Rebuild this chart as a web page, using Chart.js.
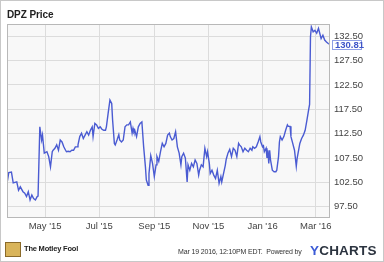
<!DOCTYPE html>
<html>
<head>
<meta charset="utf-8">
<script src="https://cdn.jsdelivr.net/npm/chart.js@4"></script>
<style>
  html, body { margin: 0; padding: 0; background: #fff; }
  body { width: 384px; height: 262px; position: relative; overflow: hidden; font-family: "Liberation Sans", Arial, sans-serif; }
  #frame { position: absolute; left: 0; top: 0; width: 384px; height: 262px; box-sizing: border-box; border: 1px solid #c8c8c8; }
  #chartBox { position: absolute; left: 0; top: 0; width: 384px; height: 262px; }
  .title { position: absolute; left: 7px; top: 9px; font-size: 10px; font-weight: bold; color: #222; letter-spacing: -0.1px; }
  .fool { position: absolute; left: 24px; top: 244px; font-size: 7.5px; font-weight: bold; color: #222; letter-spacing: -0.2px; }
  .logo { position: absolute; left: 5px; top: 242px; width: 16px; height: 15px; background: #d9b45a; border: 1px solid #8a6a2a; box-sizing: border-box; }
  .stamp { position: absolute; left: 178px; top: 248px; font-size: 7px; color: #333; letter-spacing: -0.15px; }
  .ych { position: absolute; left: 310px; top: 243px; font-size: 13.5px; font-weight: bold; color: #2c3440; letter-spacing: 0.2px; }
  .ych span { color: #3b5bd6; }
</style>
</head>
<body>
<div id="chartBox"><canvas id="priceChart" width="384" height="262"></canvas></div>
<div id="frame"></div>
<div class="title">DPZ Price</div>
<div class="logo"></div>
<div class="fool">The Motley Fool</div>
<div class="stamp">Mar 19 2016, 12:10PM EDT.&nbsp; Powered by</div>
<div class="ych"><span>Y</span>CHARTS</div>
<script>
// days since 2015-03-19 and closing price
const days = [0, 2, 5, 7, 11, 13, 15, 18, 20, 22, 24, 26, 28, 30, 32, 34, 35, 37, 39, 40,
  42, 45, 47, 49, 51, 52, 54, 56, 58, 60, 62, 64, 66, 67, 69, 71, 73, 75, 77, 79,
  80, 82, 84, 86, 88, 90, 92, 94, 96, 97, 99, 101, 103, 105, 107, 109, 111, 112, 114, 116,
  118, 119, 121, 122, 124, 126, 127, 129, 131, 133, 135, 137, 139, 141, 142, 143, 144, 146, 148, 150,
  152, 154, 156, 157, 159, 160, 162, 164, 166, 168, 169, 171, 173, 175, 177, 179, 181, 183, 184, 186,
  188, 190, 192, 194, 196, 197, 199, 201, 203, 204, 206, 208, 210, 212, 214, 216, 217, 219, 221, 223,
  225, 226, 228, 229, 231, 233, 235, 237, 239, 241, 242, 244, 246, 247, 249, 251, 253, 255, 257, 259,
  261, 262, 264, 266, 268, 270, 272, 274, 276, 277, 279, 281, 283, 285, 286, 288, 289, 290, 292, 293,
  294, 295, 296, 297, 299, 301, 303, 304, 306, 307, 308, 310, 312, 314, 316, 317, 319, 320, 322, 324,
  326, 327, 329, 330, 332, 334, 336, 338, 340, 341, 342, 343, 345, 347, 349, 351, 352, 354, 356, 358,
  360, 362, 364];
const prices = [102.3, 104.5, 104.6, 102.4, 102.6, 100.9, 101.6, 100.6, 100.3, 99.6, 100.6, 98.9, 99.9, 99.2, 98.9, 99.6, 99.7, 113.9, 111.2, 112.2,
  108.5, 108.8, 107.8, 105.7, 108.8, 109.1, 109.5, 110.2, 109.1, 111.2, 110.8, 109.8, 109.1, 108.8, 108.9, 108.8, 109.1, 109.1, 109.8, 109.8,
  110.2, 111.9, 112.6, 111.5, 112.2, 112.9, 112.2, 113.2, 113.9, 111.9, 114.6, 114.3, 113.6, 113.9, 113.4, 113.2, 113.2, 113.9, 116.7, 119.4,
  118.7, 115.3, 110.5, 110.2, 111.2, 112.3, 111.2, 110.8, 111.2, 113.9, 114.3, 114.3, 114.9, 112.6, 113.6, 112.9, 113.2, 111.9, 113.9, 114.6,
  114.9, 109.8, 105.7, 103.0, 101.9, 104.3, 108.0, 106.4, 103.7, 106.1, 107.8, 106.8, 108.8, 110.5, 109.8, 110.5, 112.2, 112.6, 111.9, 111.2,
  111.5, 112.9, 109.8, 108.5, 106.1, 107.8, 108.5, 107.5, 102.6, 106.1, 105.0, 106.4, 105.7, 107.1, 106.4, 104.0, 105.0, 106.1, 105.7, 109.5,
  107.8, 108.8, 106.4, 104.3, 105.0, 104.0, 103.3, 105.0, 102.3, 103.7, 102.6, 104.3, 106.0, 107.2, 108.5, 109.3, 107.8, 109.5, 109.1, 107.8,
  110.5, 110.2, 109.8, 108.8, 109.5, 109.1, 108.8, 109.5, 109.1, 109.8, 109.5, 109.8, 110.8, 111.9, 110.8, 109.8, 110.0, 108.8, 109.5, 107.5,
  109.1, 106.4, 109.1, 107.1, 105.0, 104.7, 104.7, 105.0, 107.8, 110.8, 111.9, 111.2, 111.9, 113.2, 114.3, 114.0, 114.0, 111.9, 110.5, 109.1,
  105.8, 107.5, 109.5, 110.5, 111.5, 112.2, 113.2, 115.3, 117.5, 118.5, 132.4, 134.4, 133.4, 133.7, 133.1, 134.1, 133.4, 132.0, 132.7, 131.7,
  131.3, 131.0, 130.81];

const monthDays = [43, 104, 166, 227, 288, 348];
const monthLabels = ["May '15", "Jul '15", "Sep '15", "Nov '15", "Jan '16", "Mar '16"];
const yTicks = [97.5, 102.5, 107.5, 112.5, 117.5, 122.5, 127.5, 132.5];

const points = days.map((d, i) => ({ x: d, y: prices[i] }));

// plot background, frame and last value tag
const plotDecor = {
  id: 'plotDecor',
  beforeDraw(chart) {
    const { ctx, chartArea: a } = chart;
    ctx.save();
    ctx.fillStyle = '#f8f8f8';
    ctx.fillRect(a.left, a.top, a.right - a.left, a.bottom - a.top);
    ctx.restore();
  },
  afterDraw(chart) {
    const { ctx, chartArea: a } = chart;
    ctx.save();
    ctx.strokeStyle = '#b8b8b8';
    ctx.lineWidth = 1;
    ctx.strokeRect(a.left + 0.5, a.top + 0.5, a.right - a.left - 1, a.bottom - a.top - 1);
    const last = prices[prices.length - 1];
    const y = Math.round(chart.scales.y.getPixelForValue(last)) + 1;
    const x = a.right + 2;
    ctx.fillStyle = '#fff';
    ctx.fillRect(x, y - 5, 30, 10);
    ctx.strokeStyle = '#8fa0e6';
    ctx.strokeRect(x + 0.5, y - 4.5, 29, 9);
    ctx.fillStyle = '#3e55c8';
    ctx.font = 'bold 9.5px "Liberation Sans", Arial, sans-serif';
    ctx.textBaseline = 'middle';
    ctx.fillText(last.toFixed(2), x + 3, y + 0.5);
    ctx.restore();
  }
};

new Chart(document.getElementById('priceChart'), {
  type: 'line',
  data: {
    datasets: [{
      data: points,
      borderColor: '#4a5bd2',
      borderWidth: 1.4,
      pointRadius: 0,
      tension: 0,
      fill: false
    }]
  },
  options: {
    responsive: false,
    animation: false,
    events: [],
    layout: { padding: { left: 7, top: 24, right: 0, bottom: 0 } },
    plugins: { legend: { display: false }, tooltip: { enabled: false } },
    scales: {
      x: {
        type: 'linear',
        min: 0,
        max: 364,
        afterBuildTicks(scale) { scale.ticks = monthDays.map(v => ({ value: v })); },
        afterFit(scale) { scale.height = 44; },
        grid: { color: '#dcdcdc', tickLength: 0 },
        border: { display: false },
        ticks: {
          padding: 3,
          maxRotation: 0,
          autoSkip: false,
          color: '#444',
          font: { family: '"Liberation Sans", Arial, sans-serif', size: 9.5 },
          callback: (v) => monthLabels[monthDays.indexOf(v)]
        }
      },
      y: {
        position: 'right',
        min: 95.2,
        max: 135,
        afterBuildTicks(scale) { scale.ticks = yTicks.map(v => ({ value: v })); },
        afterFit(scale) { scale.width = 54; },
        grid: { color: '#dcdcdc', tickLength: 0 },
        border: { display: false },
        ticks: {
          padding: 4,
          autoSkip: false,
          color: '#444',
          font: { family: '"Liberation Sans", Arial, sans-serif', size: 9.5 },
          callback: (v) => v.toFixed(2)
        }
      }
    }
  },
  plugins: [plotDecor]
});
</script>
</body>
</html>
